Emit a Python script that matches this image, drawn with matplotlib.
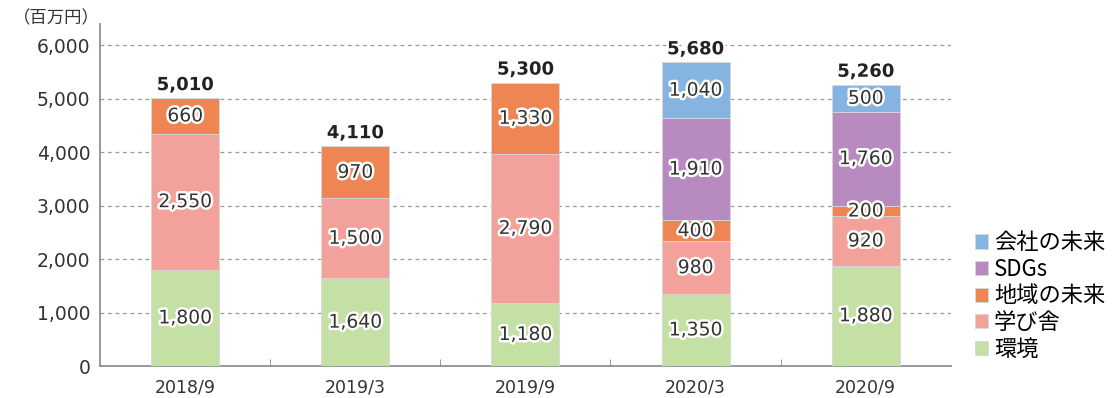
import numpy as np
import matplotlib
matplotlib.use('Agg')
import matplotlib.pyplot as plt
import matplotlib.patheffects as pe
from matplotlib.ticker import FuncFormatter, FixedLocator

plt.rcParams['font.family'] = ['Noto Sans CJK JP', 'DejaVu Sans']
NUM_FONT = ['DejaVu Sans']

periods = ["2018/9", "2019/3", "2019/9", "2020/3", "2020/9"]
series_names = ["環境", "学び舎", "地域の未来", "SDGs", "会社の未来"]
kankyo = [1800, 1640, 1180, 1350, 1880]
manabiya = [2550, 1500, 2790, 980, 920]
chiiki = [660, 970, 1330, 400, 200]
sdgs = [0, 0, 0, 1910, 1760]
kaisha = [0, 0, 0, 1040, 500]
colors = ["#c5e0a4", "#f2a19b", "#ef8552", "#b88bc0", "#86b4e0"]

series = [kankyo, manabiya, chiiki, sdgs, kaisha]

fig = plt.figure(figsize=(11.12, 3.98), dpi=100)
ax = fig.add_axes([0.09, 0.0804, 0.765, 0.8593])

x = np.arange(len(periods))
outline = [pe.withStroke(linewidth=3.5, foreground="white")]
bottom = np.zeros(len(periods))
for vals, name, col in zip(series, series_names, colors):
    vals = np.array(vals, dtype=float)
    ax.bar(x, vals, 0.4, bottom=bottom, color=col, label=name,
           edgecolor="#d8d8d8", linewidth=0.6, zorder=3)
    for xi, v, b0 in zip(x, vals, bottom):
        if v > 0:
            ax.text(xi, b0 + v / 2, f"{int(v):,}", ha="center", va="center",
                    fontsize=13.5, family=NUM_FONT, color="#333333",
                    path_effects=outline, zorder=5)
    bottom += vals

# totals above each bar
for xi, tot in zip(x, bottom):
    ax.annotate(f"{int(tot):,}", (xi, tot), xytext=(0, 3), textcoords="offset points",
                ha="center", va="bottom", fontsize=13, fontweight="bold",
                family=NUM_FONT, color="#222222", path_effects=outline, zorder=6)

ax.set_xlim(-0.5, len(periods) - 0.5)
ax.set_ylim(0, 6400)
ax.set_yticks(np.arange(0, 6001, 1000))
ax.yaxis.set_major_formatter(FuncFormatter(lambda v, p: f"{int(v):,}"))
ax.set_xticks(x)
ax.set_xticklabels(periods, fontsize=12.5, color="#333333", family=NUM_FONT)
for lab in ax.get_yticklabels():
    lab.set_family(NUM_FONT)
ax.xaxis.set_minor_locator(FixedLocator(np.arange(0.5, len(periods) - 1, 1)))
ax.tick_params(axis="x", which="major", length=0, pad=9)
ax.tick_params(axis="x", which="minor", length=5, direction="in", color="#888888")
ax.tick_params(axis="y", length=0, labelsize=13.5, labelcolor="#333333", pad=7)
ax.grid(axis="y", linestyle=(0, (3, 3)), color="#999999", linewidth=0.9, zorder=0)

for s in ["top", "right"]:
    ax.spines[s].set_visible(False)
for s in ["left", "bottom"]:
    ax.spines[s].set_color("#888888")
    ax.spines[s].set_linewidth(1.2)

fig.text(0.012, 0.955, "（百万円）", fontsize=12.5, color="#333333", ha="left", va="center")

handles, labels = ax.get_legend_handles_labels()
ax.legend(handles[::-1], labels[::-1], loc="lower left", bbox_to_anchor=(1.018, -0.01),
          frameon=False, fontsize=16, handlelength=0.6, handleheight=0.6,
          handletextpad=0.25, labelspacing=0.16, borderaxespad=0)

fig.savefig("out.png", dpi=100)
